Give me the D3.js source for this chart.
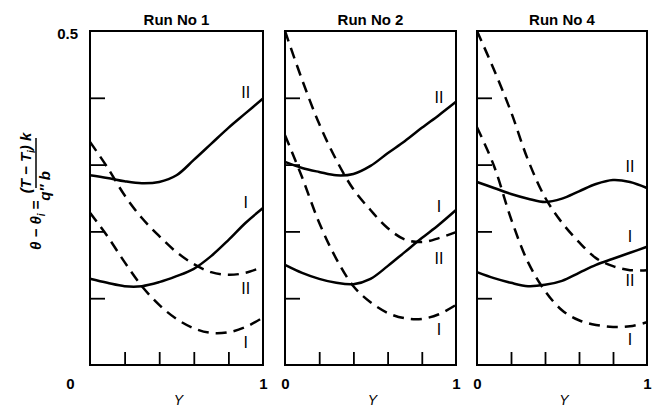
<!DOCTYPE html>
<html>
<head>
<meta charset="utf-8">
<script src="https://cdn.jsdelivr.net/npm/d3@7"></script>
<style>
  body { margin: 0; background: #fff; }
  svg { display: block; font-family: "Liberation Sans", Arial, sans-serif; }
  .frame { fill: none; stroke: #000; stroke-width: 2; }
  .tick line { stroke: #000; stroke-width: 1.8; }
  .domain { display: none; }
  .curve { fill: none; stroke: #000; stroke-width: 2.5; }
  .dash { stroke-dasharray: 11, 7; }
</style>
</head>
<body>
<div id="chart"></div>
<script>
// sample points along Y
var yPos = [0, 0.1, 0.2, 0.3, 0.4, 0.5, 0.6, 0.7, 0.8, 0.9, 1.0];

var runTitles = ["Run No 1", "Run No 2", "Run No 4"];

// Run 1
var run1SolidII = [0.284, 0.280, 0.275, 0.272, 0.274, 0.284, 0.307, 0.331, 0.355, 0.377, 0.399];
var run1SolidI  = [0.129, 0.123, 0.118, 0.118, 0.124, 0.133, 0.144, 0.163, 0.187, 0.213, 0.235];
var run1DashII  = [0.334, 0.296, 0.254, 0.220, 0.193, 0.169, 0.151, 0.139, 0.135, 0.138, 0.147];
var run1DashI   = [0.228, 0.193, 0.154, 0.118, 0.090, 0.069, 0.055, 0.048, 0.049, 0.057, 0.071];
// Run 2
var run2SolidII = [0.304, 0.295, 0.289, 0.284, 0.286, 0.298, 0.317, 0.335, 0.355, 0.374, 0.394];
var run2SolidI  = [0.150, 0.138, 0.129, 0.123, 0.121, 0.129, 0.148, 0.169, 0.190, 0.210, 0.232];
var run2DashII  = [0.500, 0.427, 0.361, 0.307, 0.263, 0.232, 0.205, 0.188, 0.184, 0.190, 0.199];
var run2DashI   = [0.344, 0.281, 0.213, 0.159, 0.118, 0.094, 0.078, 0.070, 0.069, 0.076, 0.090];
// Run 4
var run4SolidII = [0.274, 0.265, 0.256, 0.249, 0.244, 0.249, 0.260, 0.271, 0.277, 0.274, 0.265];
var run4SolidI  = [0.139, 0.130, 0.123, 0.118, 0.120, 0.126, 0.138, 0.150, 0.159, 0.168, 0.177];
var run4DashII  = [0.500, 0.442, 0.379, 0.307, 0.251, 0.213, 0.184, 0.160, 0.148, 0.142, 0.142];
var run4DashI   = [0.356, 0.298, 0.219, 0.154, 0.111, 0.082, 0.067, 0.060, 0.057, 0.058, 0.064];

var yTicks = [0.1, 0.2, 0.3, 0.4];
var xTicks = [0.2, 0.4, 0.6, 0.8];
var curveNames = ["II", "I", "II", "I"];
// label anchor in data units, one per curve
var labelY = [
  [0.409, 0.243, 0.115, 0.034],
  [0.401, 0.237, 0.160, 0.054],
  [0.298, 0.193, 0.127, 0.039]
];

var runs = [
  [run1SolidII, run1SolidI, run1DashII, run1DashI],
  [run2SolidII, run2SolidI, run2DashII, run2DashI],
  [run4SolidII, run4SolidI, run4DashII, run4DashI]
];

var width = 659, height = 407;
var panelX = [[90, 263], [285, 456], [477, 647]];
var plotTop = 31, plotBottom = 365;

var svg = d3.select("#chart").append("svg")
    .attr("width", width)
    .attr("height", height);

var y = d3.scaleLinear().domain([0, 0.5]).range([plotBottom, plotTop]);

runs.forEach(function(series, p) {
  var x = d3.scaleLinear().domain([0, 1]).range(panelX[p]);
  var g = svg.append("g");

  g.append("rect")
      .attr("class", "frame")
      .attr("x", x(0)).attr("y", y(0.5))
      .attr("width", x(1) - x(0)).attr("height", y(0) - y(0.5));

  g.append("g")
      .attr("transform", "translate(" + x(0) + ",0)")
      .call(d3.axisLeft(y).tickValues(yTicks).tickSize(-15).tickFormat(""));

  g.append("g")
      .attr("transform", "translate(0," + y(0) + ")")
      .call(d3.axisBottom(x).tickValues(xTicks).tickSize(-13).tickFormat(""));

  // end labels 0 and 1
  var ends = g.append("g")
      .attr("transform", "translate(0," + y(0) + ")")
      .call(d3.axisBottom(x).tickValues([0, 1]).tickSize(0).tickPadding(13).tickFormat(d3.format("d")));
  ends.selectAll("text")
      .attr("font-size", 15).attr("font-weight", "bold").attr("fill", "#000")
      .attr("font-family", "Liberation Sans, Arial, sans-serif");
  if (p == 0) ends.selectAll(".tick").filter(function(d) { return d == 0; })
      .select("text").attr("x", -20);

  if (p == 0) {
    var top05 = g.append("g")
        .attr("transform", "translate(" + x(0) + ",0)")
        .call(d3.axisLeft(y).tickValues([0.5]).tickSize(0).tickPadding(12).tickFormat(d3.format(".1f")));
    top05.selectAll("text")
        .attr("font-size", 15).attr("font-weight", "bold").attr("fill", "#000")
        .attr("font-family", "Liberation Sans, Arial, sans-serif")
        .attr("dy", "0.5em");
  }

  g.append("text")
      .attr("x", (x(0) + x(1)) / 2).attr("y", 25)
      .attr("text-anchor", "middle")
      .attr("font-size", 15).attr("font-weight", "bold")
      .text(runTitles[p]);

  g.append("text")
      .attr("x", (x(0) + x(1)) / 2 + 2).attr("y", 405)
      .attr("text-anchor", "middle")
      .attr("font-size", 14).attr("font-style", "italic")
      .text("Y");

  var line = d3.line()
      .x(function(d, i) { return x(yPos[i]); })
      .y(function(d) { return y(d); })
      .curve(d3.curveCatmullRom);

  series.forEach(function(vals, k) {
    g.append("path")
        .datum(vals)
        .attr("class", k < 2 ? "curve" : "curve dash")
        .attr("d", line);

    g.append("text")
        .attr("x", x(0.9)).attr("y", y(labelY[p][k]))
        .attr("dy", "0.36em")
        .attr("text-anchor", "middle")
        .attr("font-size", 16).attr("fill", "#000")
        .text(curveNames[k]);
  });
});

// y axis title, rotated
var yt = svg.append("g")
    .attr("transform", "translate(40,200) rotate(-90)")
    .attr("font-size", 15).attr("font-weight", "bold").attr("font-style", "italic");

var t1 = yt.append("text").attr("x", -50).attr("y", 1);
t1.append("tspan").text("θ − θ");
t1.append("tspan").attr("font-size", 10).attr("dy", 4).text("i");
t1.append("tspan").attr("dy", -4).attr("font-style", "normal").text(" =");

var t2 = yt.append("text").attr("x", 37).attr("y", -9).attr("text-anchor", "middle");
t2.append("tspan").text("(T − T");
t2.append("tspan").attr("font-size", 10).attr("dy", 4).text("i");
t2.append("tspan").attr("dy", -4).text(") k");

yt.append("line")
    .attr("x1", 12).attr("x2", 62).attr("y1", -4).attr("y2", -4)
    .attr("stroke", "#000").attr("stroke-width", 1.5);

yt.append("text").attr("x", 14).attr("y", 10).attr("text-anchor", "middle").text("q″ b");
</script>
</body>
</html>
